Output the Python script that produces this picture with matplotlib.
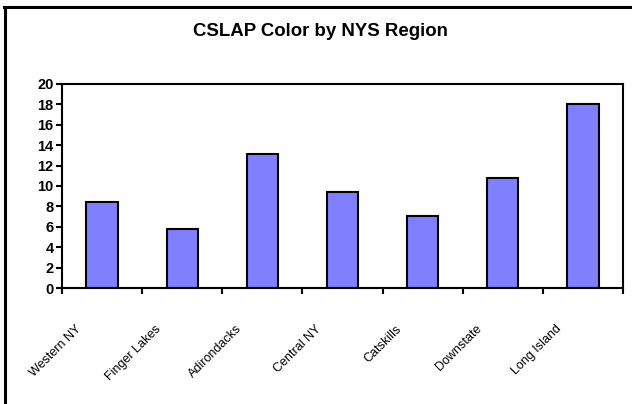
import numpy as np
import matplotlib.pyplot as plt
from matplotlib.lines import Line2D

### chart data ###
regions = ['Western NY', 'Finger Lakes', 'Adirondacks', 'Central NY',
           'Catskills', 'Downstate', 'Long Island']
color_values = [8.4, 5.8, 13.1, 9.4, 7.1, 10.8, 18.0]
y_ticks = [0, 2, 4, 6, 8, 10, 12, 14, 16, 18, 20]

plt.rcParams['font.family'] = ['Liberation Sans', 'DejaVu Sans']

W, H = 632, 404
fig = plt.figure(figsize=(W / 100, H / 100), dpi=100)

# plot area in pixels: left 62, right 623, top 84, bottom 288
ax = fig.add_axes([62 / W, 1 - 288 / H, (623 - 62) / W, (288 - 84) / H])

x = np.arange(len(regions))
ax.bar(x, color_values, width=0.39, color='#8080ff', edgecolor='black', linewidth=1.5)

ax.set_xlim(-0.5, len(regions) - 0.5)
ax.set_ylim(0, 20)
ax.set_yticks(y_ticks)
ax.set_yticklabels([str(v) for v in y_ticks], fontsize=10.5, fontweight='bold')
ax.tick_params(axis='y', length=4, width=1.5, pad=2)

# x ticks sit between categories, labels rotated beneath each bar
ax.set_xticks(np.arange(len(regions) + 1) - 0.5)
ax.set_xticklabels([])
ax.tick_params(axis='x', length=4, width=1.5)
for xi, name in zip(x, regions):
    ax.annotate(name, xy=(xi, 0), xycoords=('data', 'axes fraction'),
                xytext=(-19.5, -25), textcoords='offset points',
                rotation=45, ha='right', va='top', rotation_mode='anchor',
                fontsize=9)

for s in ax.spines.values():
    s.set_linewidth(1.5)

### title and outer frame ###
fig.text(320 / W, 1 - 32 / H, 'CSLAP Color by NYS Region',
         ha='center', va='center', fontsize=13.4, fontweight='bold')
fig.add_artist(Line2D([5 / W, 5 / W], [0, 1 - 7 / H], color='black', lw=2.2,
                      transform=fig.transFigure))
fig.add_artist(Line2D([4 / W, 1], [1 - 7 / H, 1 - 7 / H], color='black', lw=2.2,
                      transform=fig.transFigure))

fig.savefig('out.png', dpi=100)
